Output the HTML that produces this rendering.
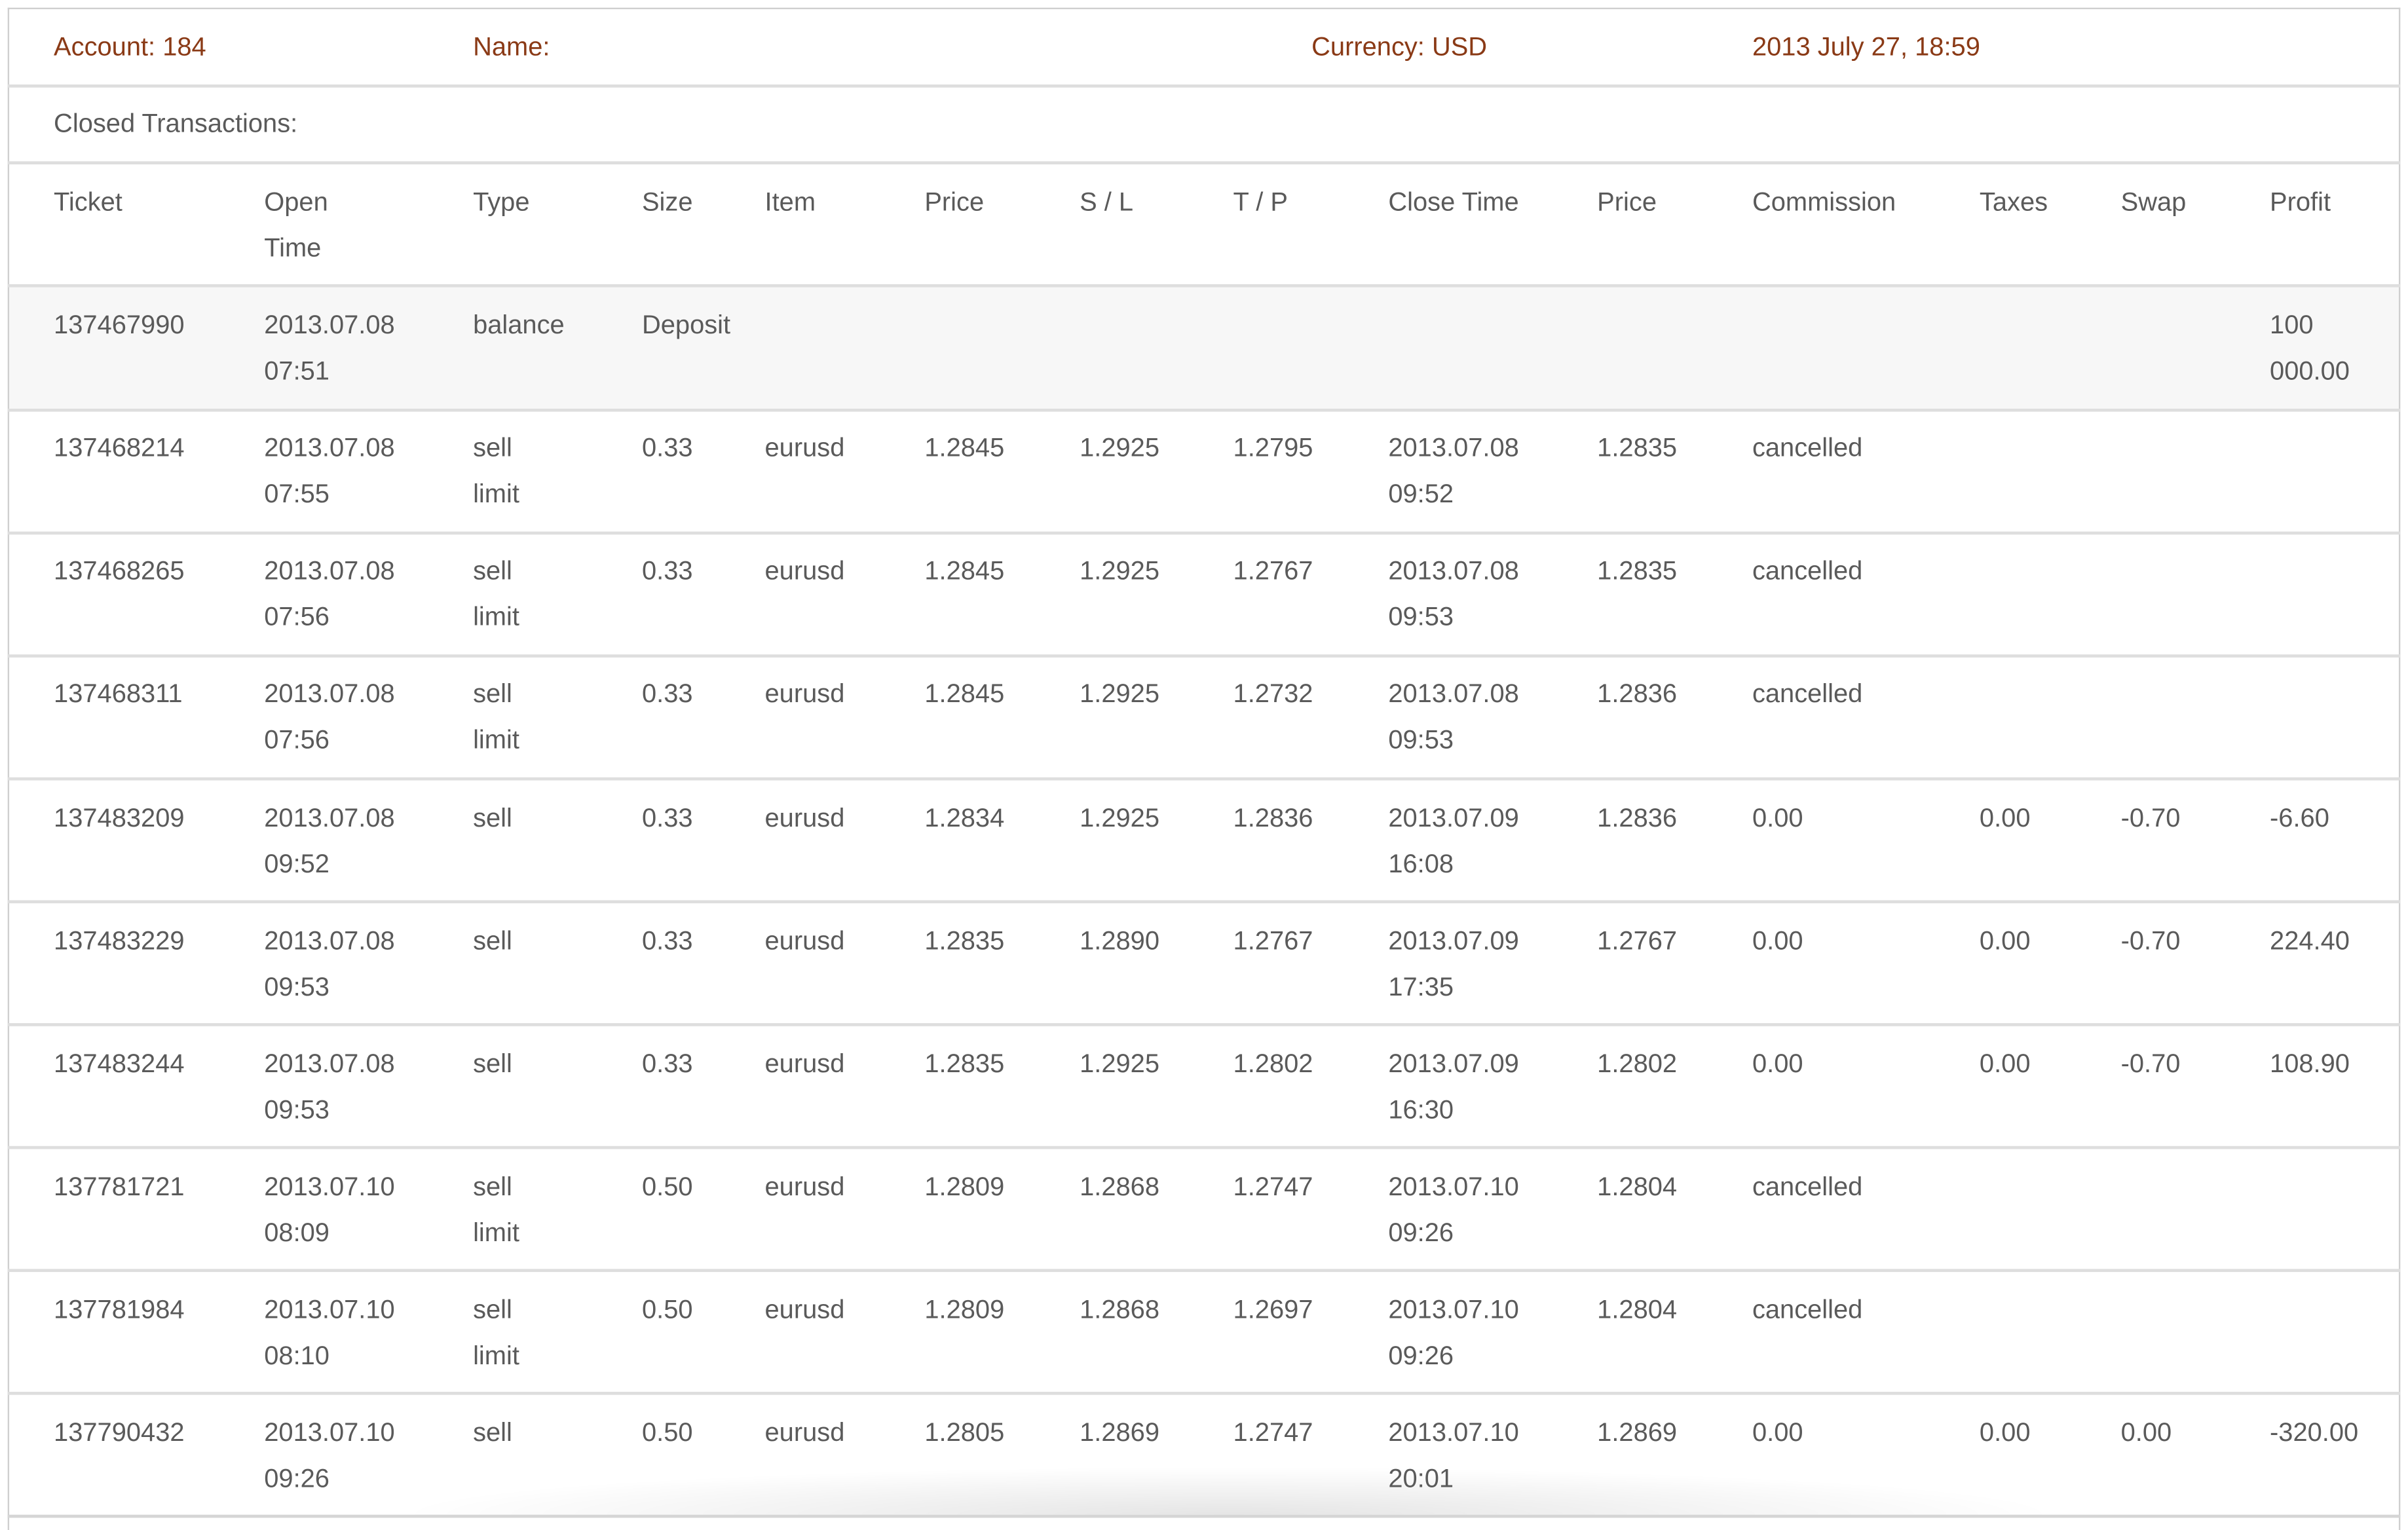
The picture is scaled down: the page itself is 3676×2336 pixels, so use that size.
<!DOCTYPE html>
<html><head><meta charset="utf-8"><style>
html,body{margin:0;padding:0;background:#fff;}
body{width:3676px;height:2322px;overflow:hidden;position:relative;}
#w{position:absolute;left:0;top:0;width:1568px;height:990px;transform:scale(2.3444,2.3455);transform-origin:0 0;font-family:"Liberation Sans",sans-serif;font-size:17px;color:#5a5a5a;}
.box{position:absolute;left:5px;top:5px;width:1556px;height:990px;border:1.5px solid #cfcfcf;border-bottom:none;}
.hl{position:absolute;left:5px;width:1558px;height:1.5px;background:#dedede;}
.t{position:absolute;line-height:30px;white-space:nowrap;}
.b{color:#8a3a16;}
.bg{position:absolute;left:6px;width:1556px;height:80px;background:#f7f7f7;}
.sh{position:absolute;left:260px;width:1080px;top:955px;height:31px;background:radial-gradient(ellipse 50% 100% at 50% 100%,rgba(0,0,0,0.10),rgba(0,0,0,0) 100%);}
</style></head><body><div id="w">
<div class="bg" style="top:186px"></div>
<div class="box"></div>
<div class="hl" style="top:55px"></div>
<div class="hl" style="top:105px"></div>
<div class="hl" style="top:185px"></div>
<div class="hl" style="top:266px"></div>
<div class="hl" style="top:346px"></div>
<div class="hl" style="top:426px"></div>
<div class="hl" style="top:506px"></div>
<div class="hl" style="top:586px"></div>
<div class="hl" style="top:666px"></div>
<div class="hl" style="top:746px"></div>
<div class="hl" style="top:826px"></div>
<div class="hl" style="top:906px"></div>
<div class="sh"></div>
<div class="hl" style="top:986px;background:#d5d5d5"></div>
<div class="t b" style="left:35px;top:16px">Account: 184</div>
<div class="t b" style="left:308px;top:16px">Name:</div>
<div class="t b" style="left:854px;top:16px">Currency: USD</div>
<div class="t b" style="left:1141px;top:16px">2013 July 27, 18:59</div>
<div class="t" style="left:35px;top:66px">Closed Transactions:</div>
<div id="rows"></div>
<script>
(function(){
var X=[35,172,308,418,498,602,703,803,904,1040,1141,1289,1381,1478];
var R=[
["Ticket","Open<br>Time","Type","Size","Item","Price","S / L","T / P","Close Time","Price","Commission","Taxes","Swap","Profit"],
["137467990","2013.07.08<br>07:51","balance","Deposit","","","","","","","","","","100<br>000.00"],
["137468214","2013.07.08<br>07:55","sell<br>limit","0.33","eurusd","1.2845","1.2925","1.2795","2013.07.08<br>09:52","1.2835","cancelled","","",""],
["137468265","2013.07.08<br>07:56","sell<br>limit","0.33","eurusd","1.2845","1.2925","1.2767","2013.07.08<br>09:53","1.2835","cancelled","","",""],
["137468311","2013.07.08<br>07:56","sell<br>limit","0.33","eurusd","1.2845","1.2925","1.2732","2013.07.08<br>09:53","1.2836","cancelled","","",""],
["137483209","2013.07.08<br>09:52","sell","0.33","eurusd","1.2834","1.2925","1.2836","2013.07.09<br>16:08","1.2836","0.00","0.00","-0.70","-6.60"],
["137483229","2013.07.08<br>09:53","sell","0.33","eurusd","1.2835","1.2890","1.2767","2013.07.09<br>17:35","1.2767","0.00","0.00","-0.70","224.40"],
["137483244","2013.07.08<br>09:53","sell","0.33","eurusd","1.2835","1.2925","1.2802","2013.07.09<br>16:30","1.2802","0.00","0.00","-0.70","108.90"],
["137781721","2013.07.10<br>08:09","sell<br>limit","0.50","eurusd","1.2809","1.2868","1.2747","2013.07.10<br>09:26","1.2804","cancelled","","",""],
["137781984","2013.07.10<br>08:10","sell<br>limit","0.50","eurusd","1.2809","1.2868","1.2697","2013.07.10<br>09:26","1.2804","cancelled","","",""],
["137790432","2013.07.10<br>09:26","sell","0.50","eurusd","1.2805","1.2869","1.2747","2013.07.10<br>20:01","1.2869","0.00","0.00","0.00","-320.00"]];
var h="";
for(var i=0;i<R.length;i++){var ty=105+i*80.1+12;
for(var j=0;j<14;j++){if(R[i][j])h+='<div class="t" style="left:'+X[j]+'px;top:'+ty+'px">'+R[i][j]+'</div>';}}
document.getElementById("rows").innerHTML=h;
})();
</script>
</div></body></html>
